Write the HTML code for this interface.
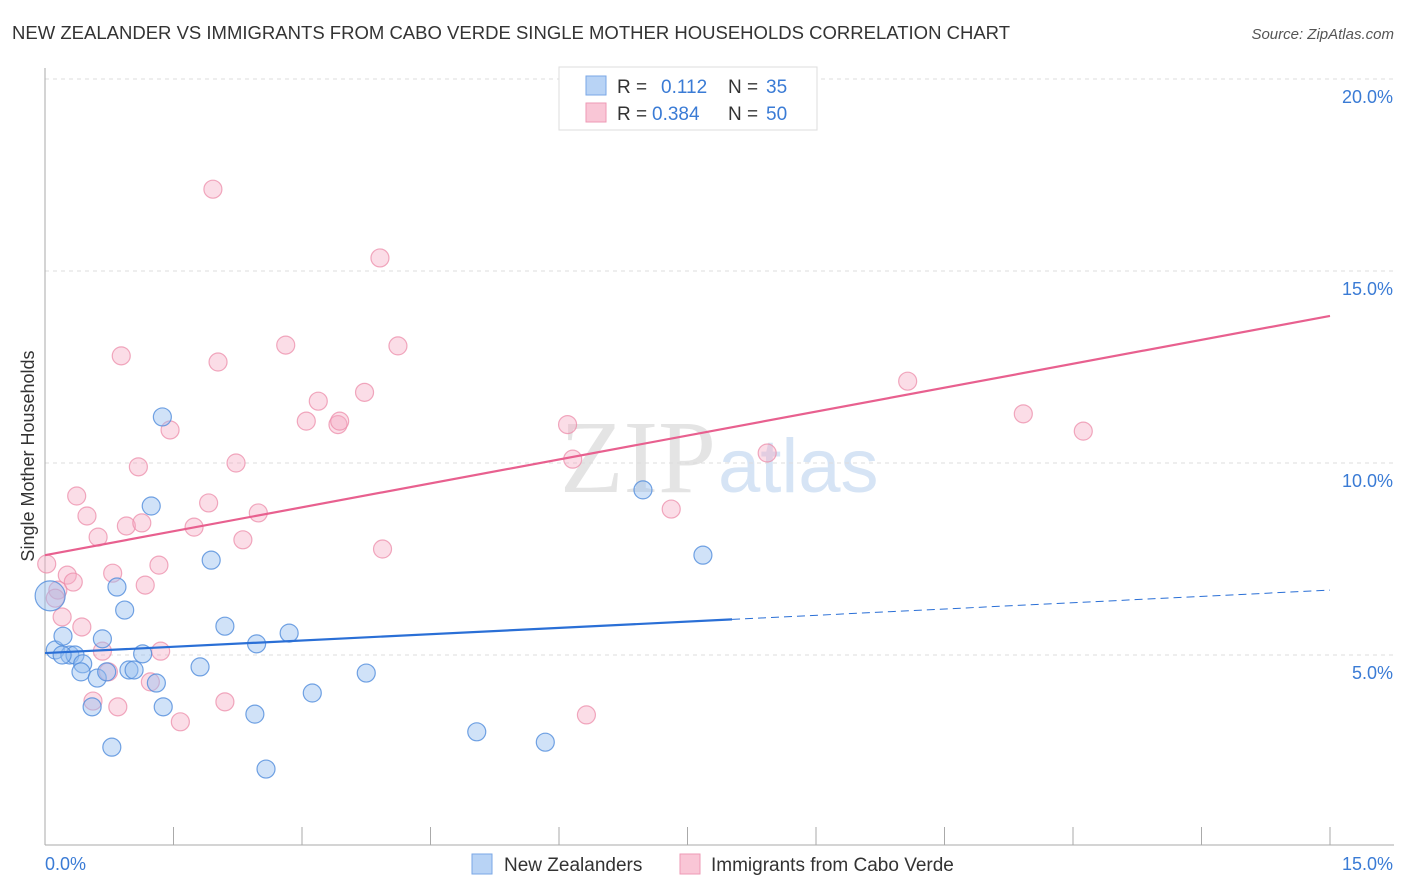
<!DOCTYPE html>
<html><head><meta charset="utf-8"><style>
body{margin:0;background:#fff;font-family:"Liberation Sans",sans-serif;}
svg{display:block}
</style></head><body>
<svg id="chart" width="1406" height="892" xmlns="http://www.w3.org/2000/svg">
<text x="12" y="39" font-size="18" fill="#333" textLength="998" lengthAdjust="spacingAndGlyphs">NEW ZEALANDER VS IMMIGRANTS FROM CABO VERDE SINGLE MOTHER HOUSEHOLDS CORRELATION CHART</text>
<text x="1394" y="39" font-size="15" fill="#555" font-style="italic" text-anchor="end">Source: ZipAtlas.com</text>
<text x="716" y="492" font-size="104" fill="#e4e4e4" text-anchor="end" font-family="Liberation Serif,serif">ZIP</text>
<text x="718" y="492" font-size="76" fill="#d6e4f5">atlas</text>
<g id="grid"></g>
<g id="axes"></g>
<g id="marks"></g>
<text transform="translate(34,456) rotate(-90)" font-size="18" fill="#333" text-anchor="middle">Single Mother Households</text>
<g>
<rect x="559" y="67" width="258" height="63" fill="#fff" stroke="#ddd"/>
<rect x="586" y="76" width="20" height="19" fill="#b8d3f5" stroke="#7aa7e6"/>
<rect x="586" y="103" width="20" height="19" fill="#f9c6d6" stroke="#ee9ab5"/>
<text x="617" y="93" font-size="19" fill="#333">R = </text><text x="661" y="93" font-size="19" fill="#3a7bd5">0.112</text>
<text x="728" y="93" font-size="19" fill="#333">N = </text><text x="766" y="93" font-size="19" fill="#3a7bd5">35</text>
<text x="617" y="120" font-size="19" fill="#333">R = </text><text x="652" y="120" font-size="19" fill="#3a7bd5">0.384</text>
<text x="728" y="120" font-size="19" fill="#333">N = </text><text x="766" y="120" font-size="19" fill="#3a7bd5">50</text>
</g>
<g>
<rect x="472" y="854" width="20" height="20" fill="#b8d3f5" stroke="#7aa7e6"/>
<text x="504" y="871" font-size="19" fill="#333">New Zealanders</text>
<rect x="680" y="854" width="20" height="20" fill="#f9c6d6" stroke="#ee9ab5"/>
<text x="711" y="871" font-size="19" fill="#333">Immigrants from Cabo Verde</text>
</g>
</svg>
<script>
const blueX=[0.06,0.12,0.21,0.29,0.35,0.44,0.42,0.61,0.55,0.67,0.78,0.72,0.84,0.93,0.98,1.04,1.14,1.24,1.30,1.38,1.37,1.81,1.94,2.10,2.45,2.47,2.58,2.85,3.12,3.75,5.04,5.84,6.98,7.68,0.20];
const blueY=[6.54,5.13,5.49,5.0,5.0,4.77,4.56,4.4,3.65,5.42,2.6,4.56,6.77,6.17,4.61,4.61,5.03,8.88,4.27,3.65,11.2,4.69,7.47,5.75,3.46,5.29,2.03,5.57,4.01,4.53,3.0,2.73,9.3,7.6,5.0];
const pinkX=[0.02,0.15,0.12,0.2,0.26,0.33,0.37,0.43,0.49,0.56,0.62,0.67,0.74,0.79,0.85,0.89,0.95,1.13,1.17,1.23,1.33,1.35,1.46,1.58,1.74,1.91,1.96,2.02,2.10,2.23,2.31,2.49,2.81,3.05,3.19,3.42,3.44,3.73,3.91,3.94,4.12,6.10,6.16,6.32,7.31,8.43,10.07,11.42,12.12,1.09];
const pinkY=[7.37,6.69,6.48,5.99,7.08,6.9,9.14,5.73,8.62,3.80,8.07,5.10,4.56,7.13,3.65,12.79,8.36,8.44,6.82,4.30,7.34,5.10,10.86,3.26,8.33,8.96,17.13,12.63,3.78,10.0,8.0,8.7,13.07,11.09,11.61,11.0,11.09,11.84,15.34,7.76,13.05,11.0,10.1,3.44,8.8,10.26,12.13,11.28,10.83,9.9];
const trendBlue=[5.05,6.69], trendPink=[7.6,13.83], blueSolidEnd=8.02;
const yTicks=[5,10,15,20], yTickLabels=["5.0%","10.0%","15.0%","20.0%"];
const xMin=0,xMax=15;
const sx=v=>45+(v-xMin)/(xMax-xMin)*1285;
const sy=v=>847-v*38.4;
const NS="http://www.w3.org/2000/svg";
function mk(tag,attrs,parent){const e=document.createElementNS(NS,tag);for(const k in attrs)e.setAttribute(k,attrs[k]);parent.appendChild(e);return e;}
const grid=document.getElementById('grid'),axes=document.getElementById('axes'),marks=document.getElementById('marks');
yTicks.forEach((t,i)=>{
 const l=mk('line',{x1:45,x2:1394,y1:sy(t),y2:sy(t),stroke:'#ddd','stroke-dasharray':'4,4'},grid);
 
 
 const tx=mk('text',{x:1393,y:sy(t)+24,'font-size':18,fill:'#3a7bd5','text-anchor':'end'},axes);
 tx.textContent=yTickLabels[i];
 
 
});
const ya=mk('line',{x1:45,x2:45,y1:68,y2:845,stroke:'#aaa'},axes);


const xa=mk('line',{x1:45,x2:1394,y1:845,y2:845,stroke:'#aaa'},axes);


for(let i=0;i<=10;i++){const v=i*1.5;const tk=mk('line',{x1:sx(v),x2:sx(v),y1:827,y2:845,stroke:'#aaa'},axes);
 
 }
const xl0=mk('text',{x:45,y:870,'font-size':18,fill:'#3a7bd5'},axes);xl0.textContent='0.0%';


const xl1=mk('text',{x:1393,y:870,'font-size':18,fill:'#3a7bd5','text-anchor':'end'},axes);xl1.textContent='15.0%';


pinkX.forEach((x,i)=>{const c=mk('circle',{cx:sx(x),cy:sy(pinkY[i]),r:9,fill:'rgba(246,170,195,0.4)',stroke:'rgba(236,140,170,0.75)','stroke-width':1.2},marks);
 
 });
blueX.forEach((x,i)=>{const c=mk('circle',{cx:sx(x),cy:sy(blueY[i]),r:i===0?15:9,fill:'rgba(150,190,240,0.45)',stroke:'rgba(80,140,220,0.8)','stroke-width':1.2},marks);
 
 });
const lb=v=>trendBlue[0]+(trendBlue[1]-trendBlue[0])*v/15, lp=v=>trendPink[0]+(trendPink[1]-trendPink[0])*v/15;
const pl=mk('line',{x1:sx(0),y1:sy(lp(0)),x2:sx(15),y2:sy(lp(15)),stroke:'#e8608f','stroke-width':2.2},marks);


const bl=mk('line',{x1:sx(0),y1:sy(lb(0)),x2:sx(blueSolidEnd),y2:sy(lb(blueSolidEnd)),stroke:'#2a6fd6','stroke-width':2.2},marks);


const bd=mk('line',{x1:sx(blueSolidEnd),y1:sy(lb(blueSolidEnd)),x2:sx(15),y2:sy(lb(15)),stroke:'#2a6fd6','stroke-width':1,'stroke-dasharray':'8,5'},marks);


</script>
</body></html>
